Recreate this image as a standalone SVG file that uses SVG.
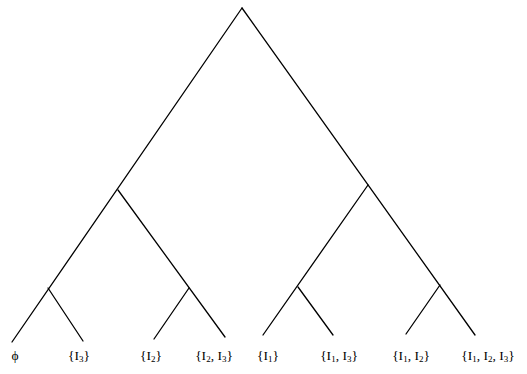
<svg xmlns="http://www.w3.org/2000/svg" width="527" height="374" viewBox="0 0 527 374">
<style>
.e{stroke:#000;stroke-width:1.3;fill:none;stroke-linecap:round}
.t{font-family:"Liberation Serif",serif;font-size:13.5px;fill:#000;text-anchor:middle}
.s{font-size:9px}
</style>
<rect width="527" height="374" fill="#fff"/>
<g id="connectors">
<path class="e" d="M242 8 L12 342"/>
<path class="e" d="M242 8 L475 335"/>
<path class="e" d="M118 190 L225 337"/>
<path class="e" d="M48 288 L83 341"/>
<path class="e" d="M189 288 L154 339"/>
<path class="e" d="M368 185 L263 335"/>
<path class="e" d="M298 287 L333 335"/>
<path class="e" d="M440 285 L406 334"/>
</g>
<g id="leaf1"><text class="t" x="15" y="360">ϕ</text></g>
<g id="leaf2"><text class="t" x="79" y="360">{I<tspan class="s" dy="2">3</tspan><tspan dy="-2">}</tspan></text></g>
<g id="leaf3"><text class="t" x="151" y="360">{I<tspan class="s" dy="2">2</tspan><tspan dy="-2">}</tspan></text></g>
<g id="leaf4"><text class="t" x="214" y="360">{I<tspan class="s" dy="2">2</tspan><tspan dy="-2">, I</tspan><tspan class="s" dy="2">3</tspan><tspan dy="-2">}</tspan></text></g>
<g id="leaf5"><text class="t" x="268" y="360">{I<tspan class="s" dy="2">1</tspan><tspan dy="-2">}</tspan></text></g>
<g id="leaf6"><text class="t" x="339" y="360">{I<tspan class="s" dy="2">1</tspan><tspan dy="-2">, I</tspan><tspan class="s" dy="2">3</tspan><tspan dy="-2">}</tspan></text></g>
<g id="leaf7"><text class="t" x="411" y="360">{I<tspan class="s" dy="2">1</tspan><tspan dy="-2">, I</tspan><tspan class="s" dy="2">2</tspan><tspan dy="-2">}</tspan></text></g>
<g id="leaf8"><text class="t" x="488" y="360">{I<tspan class="s" dy="2">1</tspan><tspan dy="-2">, I</tspan><tspan class="s" dy="2">2</tspan><tspan dy="-2">, I</tspan><tspan class="s" dy="2">3</tspan><tspan dy="-2">}</tspan></text></g>
</svg>
